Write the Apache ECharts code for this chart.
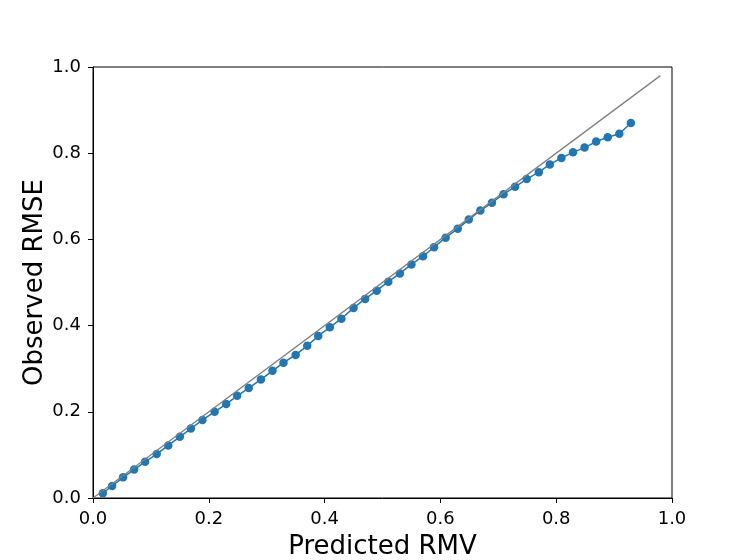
<!DOCTYPE html>
<html>
<head>
<meta charset="utf-8">
<script src="https://cdn.jsdelivr.net/npm/echarts@6/dist/echarts.min.js"></script>
<style>
html, body { margin: 0; padding: 0; background: #fff; }
#chart { width: 747px; height: 560px; }
</style>
</head>
<body>
<div id="chart"></div>
<script>
const predictedRmv = [
    0.017, 0.033, 0.052, 0.071, 0.090, 0.110, 0.130, 0.150, 0.169, 0.189,
    0.210, 0.230, 0.249, 0.269, 0.290, 0.310, 0.329, 0.350, 0.370, 0.389,
    0.409, 0.429, 0.450, 0.470, 0.490, 0.510, 0.530, 0.550, 0.570, 0.589,
    0.609, 0.630, 0.649, 0.669, 0.689, 0.709, 0.729, 0.749, 0.770, 0.789,
    0.809, 0.829, 0.849, 0.869, 0.889, 0.909, 0.929
];
const observedRmse = [
    0.011, 0.028, 0.048, 0.066, 0.084, 0.102, 0.122, 0.142, 0.161, 0.181,
    0.200, 0.218, 0.237, 0.255, 0.275, 0.295, 0.314, 0.332, 0.353, 0.376,
    0.396, 0.416, 0.441, 0.462, 0.481, 0.502, 0.521, 0.542, 0.561, 0.582,
    0.604, 0.625, 0.646, 0.667, 0.685, 0.705, 0.722, 0.740, 0.756, 0.774,
    0.789, 0.802, 0.813, 0.827, 0.837, 0.845, 0.870
];
const idealLine = [0, 0.98];
const axisTicks = [0, 0.2, 0.4, 0.6, 0.8, 1.0];

const chart = echarts.init(document.getElementById("chart"));
const font = "DejaVu Sans";

function valueAxis(name, nameGap) {
    return {
        type: "value",
        min: axisTicks[0],
        max: axisTicks[axisTicks.length - 1],
        interval: 0.2,
        name,
        nameLocation: "middle",
        nameGap,
        nameTextStyle: {
            color: "#000",
            fontSize: 26,
            fontFamily: font
        },
        axisLine: {
            show: true,
            lineStyle: { color: "#000", width: 1 }
        },
        axisTick: {
            show: true,
            length: 5,
            lineStyle: { color: "#000", width: 1 }
        },
        axisLabel: {
            color: "#000",
            fontSize: 18,
            fontFamily: font,
            margin: 12,
            formatter: v => v.toFixed(1)
        },
        splitLine: { show: false }
    };
}

const yAxis = valueAxis("Observed RMSE", 45);
yAxis.nameMoveOverlap = false;

chart.setOption({
    animation: false,
    grid: {
        left: 93,
        right: 75,
        top: 67,
        bottom: 62,
        containLabel: false,
        outerBoundsMode: "none",
        show: true,
        borderColor: "#000",
        borderWidth: 1,
        backgroundColor: "transparent"
    },
    xAxis: valueAxis("Predicted RMV", 36),
    yAxis,
    series: [{
        name: "Observed",
        type: "line",
        data: predictedRmv.map((x, i) => [x, observedRmse[i]]),
        symbol: "circle",
        symbolSize: 8.5,
        itemStyle: { color: "#1f77b4" },
        lineStyle: { color: "#1f77b4", width: 1.5 },
        z: 2
    }, {
        name: "Ideal",
        type: "line",
        data: idealLine.map(v => [v, v]),
        symbol: "none",
        lineStyle: { color: "#808080", width: 1.3 },
        z: 3
    }]
});
</script>
</body>
</html>
